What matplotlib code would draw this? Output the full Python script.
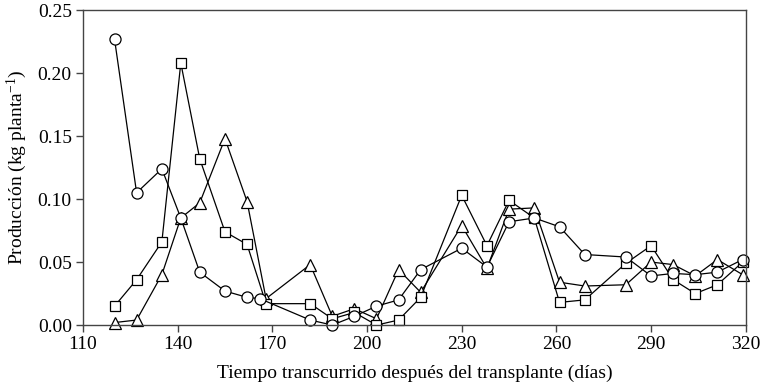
import matplotlib
matplotlib.use("Agg")
import matplotlib.pyplot as plt
from matplotlib.ticker import FormatStrFormatter, MultipleLocator

plt.rcParams['font.family'] = ['Liberation Serif', 'DejaVu Serif']
plt.rcParams['mathtext.fontset'] = 'custom'
plt.rcParams['mathtext.rm'] = 'Liberation Serif'
plt.rcParams['mathtext.it'] = 'Liberation Serif:italic'

days_circle = [120, 127, 135, 141, 147, 155, 162, 166, 182, 189, 196, 203, 210,
               217, 230, 238, 245, 253, 261, 269, 282, 290, 297, 304, 311, 319]
days_other = [120, 127, 135, 141, 147, 155, 162, 168, 182, 189, 196, 203, 210,
              217, 230, 238, 245, 253, 261, 269, 282, 290, 297, 304, 311, 319]

circle = [0.227, 0.105, 0.124, 0.085, 0.042, 0.027, 0.022, 0.021, 0.004, 0.000,
          0.007, 0.015, 0.020, 0.044, 0.061, 0.046, 0.082, 0.085, 0.078, 0.056,
          0.054, 0.039, 0.041, 0.040, 0.042, 0.052]
square = [0.015, 0.036, 0.066, 0.208, 0.132, 0.074, 0.064, 0.017, 0.017, 0.005,
          0.010, 0.000, 0.004, 0.022, 0.103, 0.063, 0.099, 0.085, 0.018, 0.020,
          0.049, 0.063, 0.036, 0.025, 0.032, 0.050]
triangle = [0.002, 0.004, 0.040, 0.085, 0.097, 0.148, 0.098, 0.021, 0.048, 0.007,
            0.013, 0.005, 0.044, 0.026, 0.079, 0.045, 0.092, 0.093, 0.034, 0.031,
            0.032, 0.050, 0.048, 0.039, 0.052, 0.040]

x_ticks = [110, 140, 170, 200, 230, 260, 290, 320]

fig = plt.figure(figsize=(7.61, 3.87), dpi=100)
ax = fig.add_axes([0.109, 0.160, 0.871, 0.814])

common = dict(color='black', linewidth=0.9, markerfacecolor='white',
              markeredgecolor='black', markeredgewidth=0.9, clip_on=False)
ax.plot(days_other, triangle, marker='^', markersize=8, **common)
ax.plot(days_other, square, marker='s', markersize=7, **common)
ax.plot(days_circle, circle, marker='o', markersize=8, **common)

ax.set_xlim(110, 320)
ax.set_ylim(0, 0.25)
ax.set_xticks(x_ticks)
ax.yaxis.set_major_locator(MultipleLocator(0.05))
ax.yaxis.set_major_formatter(FormatStrFormatter('%.2f'))

for s in ax.spines.values():
    s.set_color('#444444')
    s.set_linewidth(1.0)
ax.tick_params(direction='out', length=5, width=1.0, color='#444444',
               labelsize=14, pad=3)

ax.set_xlabel('Tiempo transcurrido después del transplante (días)', fontsize=14, labelpad=8)
ax.set_ylabel('Producción (kg planta$^{-1}$)', fontsize=14, labelpad=6)

fig.savefig('out.png', dpi=100)
